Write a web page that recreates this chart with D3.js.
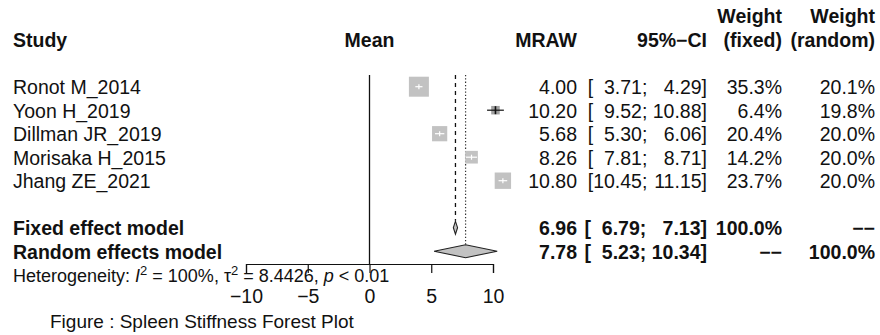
<!DOCTYPE html>
<html>
<head>
<meta charset="utf-8">
<script src="https://cdn.jsdelivr.net/npm/d3@7"></script>
<style>
  body { margin: 0; background: #fff; }
  svg text { font-family: "Liberation Sans", Arial, sans-serif; fill: #111; }
</style>
</head>
<body>
<svg id="chart" width="880" height="335"></svg>
<script>
// Données
const studies = ["Ronot M_2014", "Yoon H_2019", "Dillman JR_2019", "Morisaka H_2015", "Jhang ZE_2021"]
const means = [4.00, 10.20, 5.68, 8.26, 10.80]
const lower = [3.71, 9.52, 5.30, 7.81, 10.45]
const upper = [4.29, 10.88, 6.06, 8.71, 11.15]
const wFixed = [35.3, 6.4, 20.4, 14.2, 23.7]
const wRandom = [20.1, 19.8, 20.0, 20.0, 20.0]

const pooledLabels = ["Fixed effect model", "Random effects model"]
const pooledMean = [6.96, 7.78]
const pooledLower = [6.79, 5.23]
const pooledUpper = [7.13, 10.34]
const pooledWFixed = ["100.0%", "\u2212\u2212"]
const pooledWRandom = ["\u2212\u2212", "100.0%"]

const tickValues = [-10, -5, 0, 5, 10]

const svg = d3.select("#chart")
const fs = 19.5

// Echelles
const x = d3.scaleLinear().domain([-10, 10]).range([246, 493])
const row = d3.scaleLinear().domain([0, 1]).range([94, 117.5]) // baseline de chaque ligne
const mid = i => row(i) - 7.3
const size = d3.scaleSqrt().domain([0, 35.3]).range([0, 20])

// colonnes (bord droit)
const colStudy = 13, colMRAW = 577, colCI = 707, colWF = 782, colWR = 875

function txt(xp, yp, s, opts = {}) {
    return svg.append("text")
        .attr("x", xp).attr("y", yp)
        .attr("text-anchor", opts.anchor || "start")
        .attr("font-size", opts.size || fs)
        .attr("font-weight", opts.bold ? "bold" : "normal")
        .text(s)
}

// En-têtes
txt(colStudy, 47, "Study", { bold: true })
txt(x(0), 47, "Mean", { bold: true, anchor: "middle" })
txt(colMRAW, 47, "MRAW", { bold: true, anchor: "end" })
txt(colCI, 47, "95%\u2212CI", { bold: true, anchor: "end" })
txt(colWF, 23, "Weight", { bold: true, anchor: "end" })
txt(colWF, 47, "(fixed)", { bold: true, anchor: "end" })
txt(colWR, 23, "Weight", { bold: true, anchor: "end" })
txt(colWR, 47, "(random)", { bold: true, anchor: "end" })

// largeur d'un texte
function measure(s, bold) {
    const t = txt(0, -50, s, { bold: bold })
    const w = t.node().getComputedTextLength()
    t.remove()
    return w
}

// intervalle de confiance aligné sur les chiffres
function ciText(yp, lo, hi, bold) {
    const wBr = measure("]", bold), wField = measure("00.00", bold)
    const wSemi = measure(";", bold), wSp = measure("0 0", bold) - measure("00", bold)
    let r = colCI
    txt(r, yp, "]", { anchor: "end", bold: bold }); r -= wBr
    txt(r, yp, hi.toFixed(2), { anchor: "end", bold: bold }); r -= wField + wSp
    txt(r, yp, ";", { anchor: "end", bold: bold }); r -= wSemi
    txt(r, yp, lo.toFixed(2), { anchor: "end", bold: bold }); r -= wField
    txt(r, yp, "[", { anchor: "end", bold: bold })
}

// Lignes de référence
const yTop = 75, yAxis = 264
svg.append("line")
    .attr("x1", x(0)).attr("x2", x(0))
    .attr("y1", yTop).attr("y2", yAxis)
    .attr("stroke", "#111").attr("stroke-width", 1.3)

svg.append("line")
    .attr("x1", x(pooledMean[0])).attr("x2", x(pooledMean[0]))
    .attr("y1", yTop).attr("y2", mid(6) - 7)
    .attr("stroke", "#111").attr("stroke-width", 1.3)
    .attr("stroke-dasharray", "4,4")

svg.append("line")
    .attr("x1", x(pooledMean[1])).attr("x2", x(pooledMean[1]))
    .attr("y1", yTop).attr("y2", mid(7) - 6.5)
    .attr("stroke", "#333").attr("stroke-width", 1.2)
    .attr("stroke-dasharray", "1.3,2")

// Etudes
studies.forEach((s, i) => {
    const yp = row(i), ym = mid(i)
    const sz = size(wFixed[i])
    const inside = (x(upper[i]) - x(lower[i])) < sz

    svg.append("rect")
        .attr("x", x(means[i]) - sz / 2).attr("y", ym - sz / 2)
        .attr("width", sz).attr("height", sz)
        .attr("fill", inside ? "#c2c2c2" : "#a0a0a0")

    const c = inside ? "#fff" : "#111"
    const tk = inside ? 2.5 : 4
    svg.append("line")
        .attr("x1", x(lower[i])).attr("x2", x(upper[i]))
        .attr("y1", ym).attr("y2", ym)
        .attr("stroke", c).attr("stroke-width", 1.2)
    svg.append("line")
        .attr("x1", x(means[i])).attr("x2", x(means[i]))
        .attr("y1", ym - tk).attr("y2", ym + tk)
        .attr("stroke", c).attr("stroke-width", inside ? 1.2 : 1.6)

    txt(colStudy, yp, s)
    txt(colMRAW, yp, means[i].toFixed(2), { anchor: "end" })
    ciText(yp, lower[i], upper[i], false)
    txt(colWF, yp, wFixed[i].toFixed(1) + "%", { anchor: "end" })
    txt(colWR, yp, wRandom[i].toFixed(1) + "%", { anchor: "end" })
})

// Modèles
pooledLabels.forEach((s, k) => {
    const i = 6 + k
    const yp = row(i), ym = mid(i)
    const h = 6.5
    svg.append("path")
        .attr("d", `M${x(pooledLower[k])},${ym} L${x(pooledMean[k])},${ym - h} L${x(pooledUpper[k])},${ym} L${x(pooledMean[k])},${ym + h} Z`)
        .attr("fill", "#c2c2c2")
        .attr("stroke", "#222").attr("stroke-width", 1.1)

    txt(colStudy, yp, s, { bold: true })
    txt(colMRAW, yp, pooledMean[k].toFixed(2), { anchor: "end", bold: true })
    ciText(yp, pooledLower[k], pooledUpper[k], true)
    txt(colWF, yp, pooledWFixed[k], { anchor: "end", bold: true })
    txt(colWR, yp, pooledWRandom[k], { anchor: "end", bold: true })
})

// Axe
const axis = svg.append("g")
    .attr("transform", `translate(0,${yAxis})`)
    .call(d3.axisBottom(x)
        .tickValues(tickValues)
        .tickSize(9)
        .tickSizeOuter(9)
        .tickPadding(16))
axis.selectAll("path, line").attr("stroke", "#111").attr("stroke-width", 1.2)
axis.selectAll("text")
    .attr("font-size", fs)
    .attr("font-family", "Liberation Sans, Arial, sans-serif")
    .attr("fill", "#111")

// Hétérogénéité
const het = svg.append("text")
    .attr("x", colStudy).attr("y", row(8))
    .attr("font-size", 18)
het.append("tspan").text("Heterogeneity: ")
het.append("tspan").attr("font-style", "italic").text("I")
het.append("tspan").attr("font-size", 13).attr("dy", -7).text("2")
het.append("tspan").attr("dy", 7).text(" = 100%, \u03c4")
het.append("tspan").attr("font-size", 13).attr("dy", -7).text("2")
het.append("tspan").attr("dy", 7).text(" = 8.4426, ")
het.append("tspan").attr("font-style", "italic").text("p")
het.append("tspan").text(" < 0.01")

// Légende
txt(50, 327.5, "Figure : Spleen Stiffness Forest Plot", { size: 19 })
</script>
</body>
</html>
